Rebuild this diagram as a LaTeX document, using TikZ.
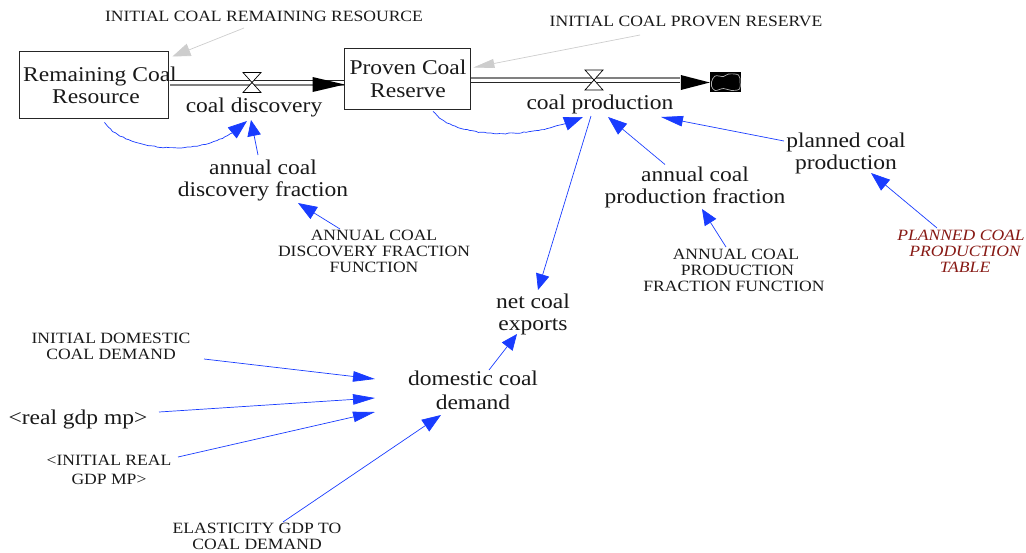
\documentclass[tikz,border=0pt]{standalone}
\usepackage{fontspec}
\setmainfont{Liberation Serif}
\newfontfamily\widefont[FakeStretch=1.12]{Liberation Serif}
\usetikzlibrary{arrows.meta,decorations.pathmorphing}
\definecolor{linkblue}{RGB}{25,60,255}
\definecolor{hintgray}{RGB}{205,205,205}
\definecolor{tablered}{RGB}{135,25,20}
\tikzset{
  x=1pt,y=-1pt,
  bigtext/.style={inner sep=0pt,align=center,font=\widefont\fontsize{21}{22}\selectfont,text=black!90},
  smalltext/.style={inner sep=0pt,align=center,font=\widefont\fontsize{15.7}{16}\selectfont,text=black!90},
  tabletext/.style={inner sep=0pt,align=center,font=\widefont\fontsize{15.7}{15.7}\selectfont\itshape,text=tablered},
  stockbox/.style={draw=black!85,line width=0.8pt,inner sep=0pt},
  link/.style={draw=linkblue,line width=0.7pt,-{Triangle[length=19pt,width=14pt,fill=linkblue]}},
  hlink/.style={draw=linkblue,line width=0.7pt,-{Triangle[length=22pt,width=10.5pt,fill=linkblue]}},
  vlink/.style={draw=linkblue,line width=0.7pt,-{Triangle[length=16pt,width=13.5pt,fill=linkblue]}},
  curvelink/.style={link,decorate,decoration={random steps,segment length=3pt,amplitude=0.5pt,post length=19pt}},
  hint/.style={draw=hintgray,line width=0.7pt,-{Triangle[length=18pt,width=13pt,fill=hintgray]}},
  hhint/.style={draw=hintgray,line width=0.7pt,-{Triangle[length=21pt,width=9pt,fill=hintgray]}},
  valve/.style={draw=black,line width=0.7pt,fill=white},
  pipedark/.style={draw=black!85,line width=0.8pt},
  pipegray/.style={draw=black!50,line width=1.8pt},
  flowhead/.style={fill=black,draw=none},
}
\begin{document}
\begin{tikzpicture}
\useasboundingbox (0,0) rectangle (1026,552);
% stocks
\node[stockbox,minimum width=149pt,minimum height=67pt] (rem) at (93.5,84.5) {};
\node[bigtext] (remt) at (100,85) {Remaining Coal\\Resource\hspace*{8pt}};
\node[stockbox,minimum width=126pt,minimum height=61pt] (prov) at (407,78.5) {};
\node[bigtext,font=\widefont\fontsize{21}{23}\selectfont] (provt) at (408,78.5) {Proven Coal\\Reserve};
% valves and sink
\coordinate (v1) at (252,82.5);
\coordinate (v2) at (594,80);
\node[minimum width=31pt,minimum height=20pt,inner sep=0pt,fill=black] (sink) at (725.5,82) {};
% flows
\draw[pipedark] ([shift={(2,-4.5)}]rem.east) -- ([shift={(0,1.5)}]prov.west);
\draw[pipegray] ([shift={(2,0.5)}]rem.east) -- ([shift={(0,6.5)}]prov.west);
\fill[flowhead] ([shift={(-31,-1.5)}]prov.west) -- ([shift={(1,6)}]prov.west) -- ([shift={(-31,13.5)}]prov.west) -- cycle;
\draw[pipegray] ([shift={(1,-0.5)}]prov.east) -- ([shift={(-30,-4)}]sink.west);
\draw[pipedark] ([shift={(1,3.5)}]prov.east) -- ([shift={(-30,0)}]sink.west);
\fill[flowhead] ([shift={(-29,-7)}]sink.west) -- ([shift={(0,0.5)}]sink.west) -- ([shift={(-29,8)}]sink.west) -- cycle;
\draw[valve] ([shift={(-9,-10)}]v1) -- ([shift={(9,-10)}]v1) -- ([shift={(-9,10)}]v1) -- ([shift={(9,10)}]v1) -- cycle;
\draw[valve] ([shift={(-9,-10)}]v2) -- ([shift={(9,-10)}]v2) -- ([shift={(-9,10)}]v2) -- ([shift={(9,10)}]v2) -- cycle;
\begin{scope}[shift={(sink.center)}]
\draw[black!30,line width=0.7pt] plot[smooth cycle,tension=0.6] coordinates {(-14,0) (-10.5,-6) (-2,-5.5) (3,-8) (13,-7) (14.5,0) (14,7) (6,8.5) (-2,6.5) (-10.5,8.5) (-14,4)};
\end{scope}
% text nodes
\node[bigtext] (cd) at (254,107.5) {coal discovery};
\node[bigtext] (cp) at (600,104) {coal production};
\node[bigtext] (adf) at (263,180) {annual coal\\discovery fraction};
\node[bigtext] (apf) at (695,187.5) {annual coal\\production fraction};
\node[bigtext] (pcp) at (846,153) {planned coal\\production};
\node[bigtext] (nce) at (533,314.5) {net coal\\exports};
\node[bigtext,font=\widefont\fontsize{21}{23.5}\selectfont] (dcd) at (473,390.5) {domestic coal\\demand};
\node[bigtext] (gdp) at (78,419.5) {<real gdp mp>};
\node[smalltext] (icr) at (264,16) {INITIAL COAL REMAINING RESOURCE};
\node[smalltext] (icp) at (686,21) {INITIAL COAL PROVEN RESERVE};
\node[smalltext] (adff) at (374,251.5) {ANNUAL COAL\\DISCOVERY FRACTION\\FUNCTION};
\node[smalltext] (apff) at (734,270) {\hspace*{4pt}ANNUAL COAL\\\hspace*{7pt}PRODUCTION\\FRACTION FUNCTION};
\node[tabletext] (pct) at (961,251.5) {PLANNED COAL\\\hspace*{8pt}PRODUCTION\\\hspace*{8pt}TABLE};
\node[smalltext] (idd) at (111,346.5) {INITIAL DOMESTIC\\COAL DEMAND};
\node[smalltext,font=\widefont\fontsize{15.7}{18.5}\selectfont] (irg) at (109,470) {<INITIAL REAL\\GDP MP>};
\node[smalltext] (egd) at (257,536) {ELASTICITY GDP TO\\COAL DEMAND};
% hints
\draw[hint] ([shift={(-20,12)}]icr.center) -- ([shift={(4,-28)}]rem.east);
\draw[hhint] ([shift={(-46,14)}]icp.center) -- ([shift={(3,-11)}]prov.east);
% curved links
\draw[curvelink] ([shift={(11,4)}]rem.south) .. controls ([shift={(30,33)}]rem.south) and ([shift={(115,43)}]rem.south) .. ([shift={(-7,13.5)}]cd.center);
\draw[curvelink] ([shift={(26,2)}]prov.south) .. controls ([shift={(50,31)}]prov.south) and ([shift={(125,30)}]prov.south) .. ([shift={(-17,13)}]cp.center);
% straight links
\draw[vlink] ([shift={(-5,-25)}]adf.center) -- ([shift={(-3,12.5)}]cd.center);
\draw[link] ([shift={(-34,-22.5)}]adff.center) -- ([shift={(-76,-48.5)}]adff.center);
\draw[link] ([shift={(-30,-23)}]apf.center) -- ([shift={(8,13)}]cp.center);
\draw[vlink] ([shift={(-8,-23)}]apff.center) -- ([shift={(-32,-61)}]apff.center);
\draw[hlink] ([shift={(-62,-12)}]pcp.center) -- ([shift={(61,13)}]cp.center);
\draw[link] ([shift={(-24,-23.5)}]pct.center) -- ([shift={(-90,-78.5)}]pct.center);
\draw[vlink] ([shift={(-9,12)}]cp.center) -- ([shift={(5,-24.5)}]nce.center);
\draw[vlink] ([shift={(16,-20.5)}]dcd.center) -- ([shift={(-16,19.5)}]nce.center);
\draw[hlink] ([shift={(93,12.5)}]idd.center) -- ([shift={(-98,-11.5)}]dcd.center);
\draw[hlink] ([shift={(81,-7.5)}]gdp.center) -- ([shift={(-98,7.5)}]dcd.center);
\draw[hlink] ([shift={(69,-13)}]irg.center) -- ([shift={(-98,21.5)}]dcd.center);
\draw[link] ([shift={(26,-14)}]egd.center) -- ([shift={(-32,24.5)}]dcd.center);
\end{tikzpicture}
\end{document}
